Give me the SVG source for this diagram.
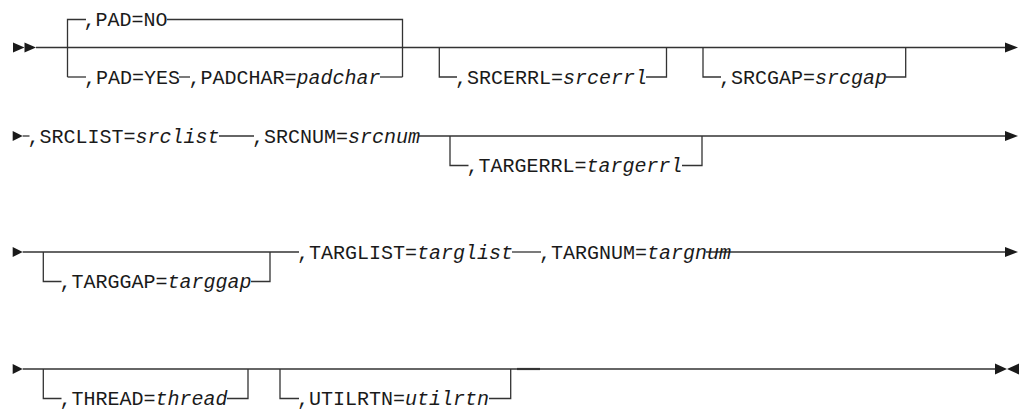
<svg xmlns="http://www.w3.org/2000/svg" width="1024" height="410" viewBox="0 0 1024 410">
<style>
.t{font-family:"Liberation Mono","DejaVu Sans Mono",monospace;font-size:20px;fill:#1a1a1a}
.i{font-style:italic}
.c{fill:none;stroke:#333;stroke-width:1.3}
.a{fill:#1a1a1a}
</style>
<rect width="1024" height="410" fill="#fff"/>
<g id="connectors">
<!-- row 1 -->
<polygon class="a" points="13,42.5 24.5,47.5 13,52.5"/>
<polygon class="a" points="24.5,42.5 36,47.5 24.5,52.5"/>
<path class="c" d="M36,47.5H1005"/>
<polygon class="a" points="1005,42.5 1018,47.5 1005,52.5"/>
<path class="c" d="M67.5,77V19.5H86"/>
<path class="c" d="M167,19.5H402.5V77"/>
<path class="c" d="M67.5,77H86"/>
<path class="c" d="M179,77H190"/>
<path class="c" d="M380,77H402.5"/>
<path class="c" d="M439.3,47.5V77H457"/>
<path class="c" d="M646,77H666.5V47.5"/>
<path class="c" d="M703,47.5V77H721"/>
<path class="c" d="M886,77H905.7V47.5"/>
<!-- row 2 -->
<polygon class="a" points="12.7,131 22.7,136 12.7,141"/>
<path class="c" d="M22.7,136H29.5"/>
<path class="c" d="M219,136H254"/>
<path class="c" d="M419,136H1005"/>
<polygon class="a" points="1005,131 1018,136 1005,141"/>
<path class="c" d="M450,136V165.5H468.5"/>
<path class="c" d="M682,165.5H702V136"/>
<!-- row 3 -->
<polygon class="a" points="12.7,247 22.7,252 12.7,257"/>
<path class="c" d="M22.7,252H299"/>
<path class="c" d="M512,252H541"/>
<path class="c" d="M706,252H1005"/>
<polygon class="a" points="1005,247 1018,252 1005,257"/>
<path class="c" d="M43.3,252V281.5H61.5"/>
<path class="c" d="M251,281.5H270V252"/>
<!-- row 4 -->
<polygon class="a" points="12.7,364 22.7,369 12.7,374"/>
<path class="c" d="M22.7,369H995"/>
<path class="c" d="M517,369H540" style="stroke-width:2.2"/>
<polygon class="a" points="995,363.5 1007,369 995,374.5"/>
<polygon class="a" points="1019,363.5 1007,369 1019,374.5"/>
<path class="c" d="M43.3,369V398.5H61.5"/>
<path class="c" d="M227,398.5H248V369"/>
<path class="c" d="M280,369V398.5H299"/>
<path class="c" d="M489,398.5H510.7V369"/>
</g>
<g id="pad-no"><text class="t" x="83.6" y="26">,PAD=NO</text></g>
<g id="pad-yes"><text class="t" x="84" y="83.5">,PAD=YES</text></g>
<g id="padchar"><text class="t" x="188.5" y="83.5">,PADCHAR=<tspan class="i">padchar</tspan></text></g>
<g id="srcerrl"><text class="t" x="455" y="83.5">,SRCERRL=<tspan class="i">srcerrl</tspan></text></g>
<g id="srcgap"><text class="t" x="719" y="83.5">,SRCGAP=<tspan class="i">srcgap</tspan></text></g>
<g id="srclist"><text class="t" x="27.5" y="142.5">,SRCLIST=<tspan class="i">srclist</tspan></text></g>
<g id="srcnum"><text class="t" x="252" y="142.5">,SRCNUM=<tspan class="i">srcnum</tspan></text></g>
<g id="targerrl"><text class="t" x="466.5" y="172">,TARGERRL=<tspan class="i">targerrl</tspan></text></g>
<g id="targgap"><text class="t" x="59.5" y="288">,TARGGAP=<tspan class="i">targgap</tspan></text></g>
<g id="targlist"><text class="t" x="297" y="258.5">,TARGLIST=<tspan class="i">targlist</tspan></text></g>
<g id="targnum"><text class="t" x="539" y="258.5">,TARGNUM=<tspan class="i">targnum</tspan></text></g>
<g id="thread"><text class="t" x="59.5" y="405">,THREAD=<tspan class="i">thread</tspan></text></g>
<g id="utilrtn"><text class="t" x="297" y="405">,UTILRTN=<tspan class="i">utilrtn</tspan></text></g>
</svg>
